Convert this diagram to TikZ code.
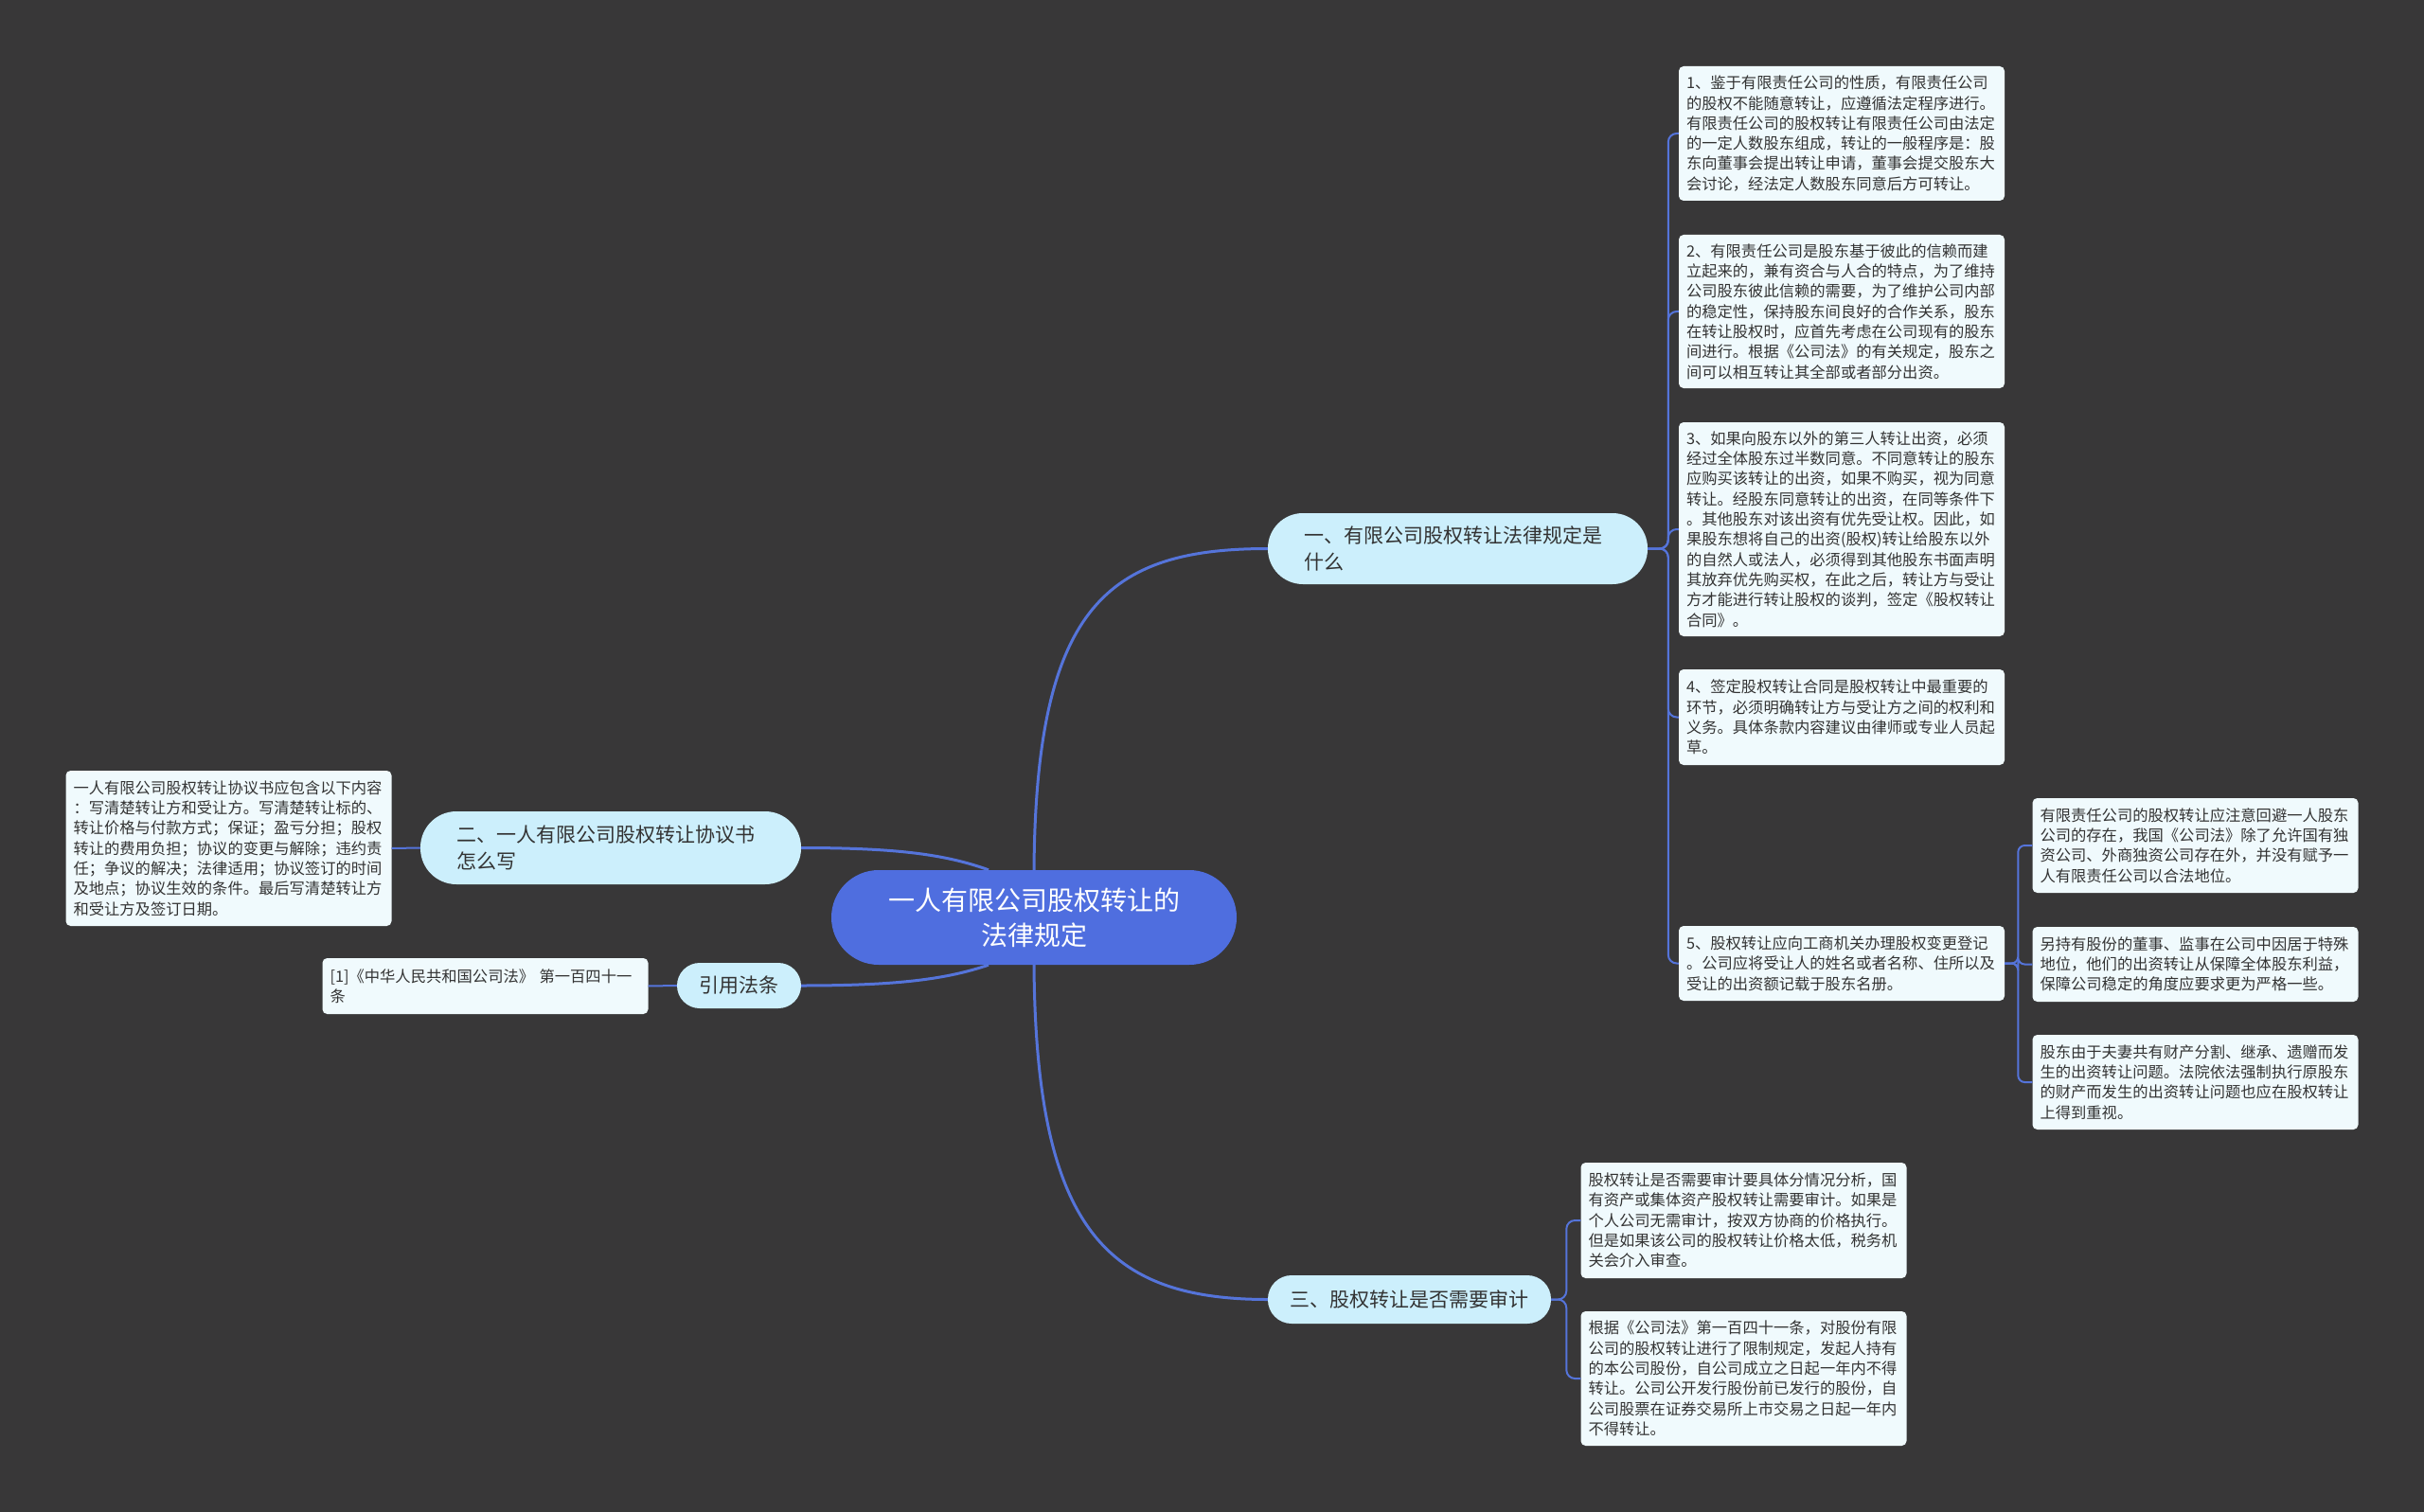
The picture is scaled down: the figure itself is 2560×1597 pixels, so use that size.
\documentclass[tikz,border=0pt]{standalone}
\usepackage{fontspec}
\setmainfont{Noto Sans CJK SC}
\usetikzlibrary{calc}
\definecolor{bg}{HTML}{383738}
\definecolor{boxfill}{HTML}{F0FAFD}
\definecolor{brfill}{HTML}{CCEFFC}
\definecolor{cenfill}{HTML}{4F6EDF}
\definecolor{linec}{HTML}{5574DA}
\definecolor{txt}{HTML}{333333}
\begin{document}
\begin{tikzpicture}[x=1pt,y=-1pt,
  detail/.style={fill=boxfill, rounded corners=5pt, text=txt,
    font=\fontsize{16.3}{21.3}\selectfont, text width=328pt, inner xsep=8pt,
    inner ysep=0pt, align=left, anchor=center},
  branch/.style={fill=brfill, text=txt, font=\fontsize{21}{28}\selectfont,
    inner xsep=38pt, inner ysep=0pt, anchor=center},
  central/.style={fill=cenfill, text=white, font=\fontsize{28}{37}\selectfont,
    align=center, inner sep=0pt, anchor=center, minimum width=428pt,
    minimum height=100pt, rounded corners=50pt},
  mainline/.style={draw=linec, line width=3pt},
  subline/.style={draw=linec, line width=2pt, rounded corners=9pt}
]
\useasboundingbox (0,0) rectangle (2560,1597);
\fill[bg] (0,0) rectangle (2560,1597);

% central
\node[central] (c) at (1092,969) {一人有限公司股权转让的\\法律规定};

% branches
\node[branch, text width=325pt, align=left, minimum height=75pt, rounded corners=37pt] (b1) at (1539.5,579.5) {一、有限公司股权转让法律规定是\\什么};
\node[branch, text width=326pt, align=left, minimum height=77pt, rounded corners=38pt] (b2) at (645,895.5) {二、一人有限公司股权转让协议书\\怎么写};
\node[branch, inner xsep=0pt, align=center, minimum width=299pt, minimum height=51pt, rounded corners=25pt] (b3) at (1488.5,1372.5) {三、股权转让是否需要审计};
\node[branch, inner xsep=0pt, align=center, minimum width=131pt, minimum height=48pt, rounded corners=24pt] (rf) at (780.5,1041) {引用法条};

% details of branch 1
\node[detail, minimum height=142pt] (d1) at (1945,141) {1、鉴于有限责任公司的性质，有限责任公司\\的股权不能随意转让，应遵循法定程序进行。\\有限责任公司的股权转让有限责任公司由法定\\的一定人数股东组成，转让的一般程序是：股\\东向董事会提出转让申请，董事会提交股东大\\会讨论，经法定人数股东同意后方可转让。};
\node[detail, minimum height=162pt] (d2) at (1945,329) {2、有限责任公司是股东基于彼此的信赖而建\\立起来的，兼有资合与人合的特点，为了维持\\公司股东彼此信赖的需要，为了维护公司内部\\的稳定性，保持股东间良好的合作关系，股东\\在转让股权时，应首先考虑在公司现有的股东\\间进行。根据《公司法》的有关规定，股东之\\间可以相互转让其全部或者部分出资。};
\node[detail, minimum height=226pt] (d3) at (1945,559) {3、如果向股东以外的第三人转让出资，必须\\经过全体股东过半数同意。不同意转让的股东\\应购买该转让的出资，如果不购买，视为同意\\转让。经股东同意转让的出资，在同等条件下\\。其他股东对该出资有优先受让权。因此，如\\果股东想将自己的出资(股权)转让给股东以外\\的自然人或法人，必须得到其他股东书面声明\\其放弃优先购买权，在此之后，转让方与受让\\方才能进行转让股权的谈判，签定《股权转让\\合同》。};
\node[detail, minimum height=101pt] (d4) at (1945,757.5) {4、签定股权转让合同是股权转让中最重要的\\环节，必须明确转让方与受让方之间的权利和\\义务。具体条款内容建议由律师或专业人员起\\草。};
\node[detail, minimum height=79pt] (d5) at (1945,1017.5) {5、股权转让应向工商机关办理股权变更登记\\。公司应将受让人的姓名或者名称、住所以及\\受让的出资额记载于股东名册。};

% details of item 5
\node[detail, minimum height=100pt] (e1) at (2318.5,893) {有限责任公司的股权转让应注意回避一人股东\\公司的存在，我国《公司法》除了允许国有独\\资公司、外商独资公司存在外，并没有赋予一\\人有限责任公司以合法地位。};
\node[detail, minimum height=79pt] (e2) at (2318.5,1018.5) {另持有股份的董事、监事在公司中因居于特殊\\地位，他们的出资转让从保障全体股东利益，\\保障公司稳定的角度应要求更为严格一些。};
\node[detail, minimum height=100pt] (e3) at (2318.5,1143) {股东由于夫妻共有财产分割、继承、遗赠而发\\生的出资转让问题。法院依法强制执行原股东\\的财产而发生的出资转让问题也应在股权转让\\上得到重视。};

% details of branch 3
\node[detail, minimum height=122pt] (f1) at (1841.5,1289) {股权转让是否需要审计要具体分情况分析，国\\有资产或集体资产股权转让需要审计。如果是\\个人公司无需审计，按双方协商的价格执行。\\但是如果该公司的股权转让价格太低，税务机\\关会介入审查。};
\node[detail, minimum height=142pt] (f2) at (1841.5,1456) {根据《公司法》第一百四十一条，对股份有限\\公司的股权转让进行了限制规定，发起人持有\\的本公司股份，自公司成立之日起一年内不得\\转让。公司公开发行股份前已发行的股份，自\\公司股票在证券交易所上市交易之日起一年内\\不得转让。};

% branch 2 detail
\node[detail, minimum height=164pt] (g) at (241.5,896) {一人有限公司股权转让协议书应包含以下内容\\：写清楚转让方和受让方。写清楚转让标的、\\转让价格与付款方式；保证；盈亏分担；股权\\转让的费用负担；协议的变更与解除；违约责\\任；争议的解决；法律适用；协议签订的时间\\及地点；协议生效的条件。最后写清楚转让方\\和受让方及签订日期。};

% reference detail
\node[detail, minimum height=59pt] (r) at (512.5,1041.5) {[1]《中华人民共和国公司法》 第一百四十一\\条};

% main connectors
\draw[mainline] (c.north) .. controls (1094,640) and (1170,579.5) .. (b1.west);
\draw[mainline] (c.south) .. controls (1094,1300) and (1170,1372.5) .. (b3.west);
\draw[mainline] (b2.east) .. controls (950,895.5) and (1000,903) .. ([xshift=-48pt]c.north);
\draw[mainline] (rf.east) .. controls (950,1041) and (1000,1034) .. ([xshift=-48pt]c.south);

% sub connectors
\foreach \n in {d1,d2,d3,d4,d5}{
  \draw[subline] (b1.east) -| ([xshift=-11pt]\n.west) -- (\n.west);
}
\foreach \n in {e1,e2,e3}{
  \draw[subline, rounded corners=7pt] (d5.east) -| ([xshift=-15pt]\n.west) -- (\n.west);
}
\foreach \n in {f1,f2}{
  \draw[subline] (b3.east) -| ([xshift=-15pt]\n.west) -- (\n.west);
}
\draw[subline] (b2.west) -- (g.east);
\draw[subline] (rf.west) -- (r.east);
\end{tikzpicture}
\end{document}
